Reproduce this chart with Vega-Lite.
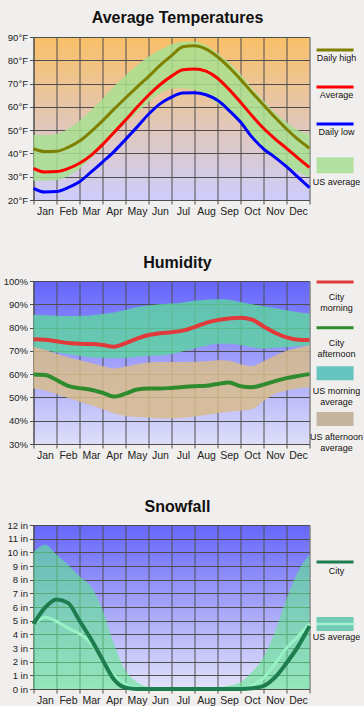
{
  "$schema": "https://vega.github.io/schema/vega-lite/v6.json",
  "background": "#F1EFED",
  "padding": {"left": 2.5, "top": 10, "right": 0, "bottom": 0},
  "columns": 2,
  "align": "each",
  "bounds": "flush",
  "spacing": {"row": 81, "column": 3},
  "resolve": {"scale": {"color": "independent"}},
  "datasets": {
    "temp": [
      {"m": 0, "hi": 42, "avg": 33.6, "lo": 25, "usHi": 48, "usLo": 28.3},
      {"m": 0.5, "hi": 40.8, "avg": 32, "lo": 23.4, "usHi": 47.8, "usLo": 28.3},
      {"m": 1, "hi": 40.9, "avg": 32.2, "lo": 23.6, "usHi": 48.3, "usLo": 28.6},
      {"m": 1.5, "hi": 42.6, "avg": 33.5, "lo": 25.3, "usHi": 50.5, "usLo": 30.2},
      {"m": 2, "hi": 45.3, "avg": 35.8, "lo": 27.8, "usHi": 54, "usLo": 33.5},
      {"m": 2.5, "hi": 49.4, "avg": 39.2, "lo": 32, "usHi": 58.5, "usLo": 38},
      {"m": 3, "hi": 54, "avg": 43.8, "lo": 36.3, "usHi": 63.5, "usLo": 43},
      {"m": 3.5, "hi": 59, "avg": 49, "lo": 40.8, "usHi": 68.8, "usLo": 48},
      {"m": 4, "hi": 63.8, "avg": 54.3, "lo": 46, "usHi": 73.5, "usLo": 53},
      {"m": 4.5, "hi": 68.5, "avg": 59.8, "lo": 51.3, "usHi": 77.8, "usLo": 57.5},
      {"m": 5, "hi": 73, "avg": 65, "lo": 56.8, "usHi": 81.5, "usLo": 62},
      {"m": 5.5, "hi": 77.8, "avg": 69.5, "lo": 61.3, "usHi": 84.5, "usLo": 65.8},
      {"m": 6, "hi": 82, "avg": 73.2, "lo": 64.2, "usHi": 86.8, "usLo": 67.8},
      {"m": 6.5, "hi": 85.8, "avg": 75.9, "lo": 65.9, "usHi": 88, "usLo": 68},
      {"m": 7, "hi": 86.2, "avg": 76.3, "lo": 66.1, "usHi": 88, "usLo": 67.3},
      {"m": 7.5, "hi": 84.8, "avg": 75.3, "lo": 65.2, "usHi": 86.3, "usLo": 64.8},
      {"m": 8, "hi": 81.5, "avg": 72.3, "lo": 62.8, "usHi": 83, "usLo": 61.3},
      {"m": 8.5, "hi": 77, "avg": 67.5, "lo": 58.5, "usHi": 79, "usLo": 57.5},
      {"m": 9, "hi": 71.8, "avg": 62, "lo": 53.5, "usHi": 74, "usLo": 52.8},
      {"m": 9.5, "hi": 66.2, "avg": 56.2, "lo": 47, "usHi": 68, "usLo": 47.5},
      {"m": 10, "hi": 60.8, "avg": 50.8, "lo": 42, "usHi": 62.5, "usLo": 42.5},
      {"m": 10.5, "hi": 55.5, "avg": 46.3, "lo": 38.3, "usHi": 57.5, "usLo": 38.3},
      {"m": 11, "hi": 50.5, "avg": 42.2, "lo": 34.3, "usHi": 53.5, "usLo": 34.8},
      {"m": 11.5, "hi": 46, "avg": 38, "lo": 29.8, "usHi": 50, "usLo": 32},
      {"m": 12, "hi": 42.2, "avg": 34, "lo": 25.3, "usHi": 48.2, "usLo": 29.8}
    ],
    "hum": [
      {"m": 0, "morn": 75, "aft": 59.8, "mHi": 85.5, "mLo": 71.5, "aHi": 71.8, "aLo": 53.8},
      {"m": 0.5, "morn": 74.8, "aft": 59.6, "mHi": 85.3, "mLo": 70.5, "aHi": 70.5, "aLo": 53},
      {"m": 1, "morn": 74.1, "aft": 57.5, "mHi": 85.1, "mLo": 69.3, "aHi": 68.8, "aLo": 51.5},
      {"m": 1.5, "morn": 73.4, "aft": 55, "mHi": 85, "mLo": 68.5, "aHi": 67.3, "aLo": 49.8},
      {"m": 2, "morn": 73, "aft": 54, "mHi": 85, "mLo": 67.8, "aHi": 66, "aLo": 48.3},
      {"m": 2.5, "morn": 72.9, "aft": 53.3, "mHi": 85.2, "mLo": 67.3, "aHi": 64.8, "aLo": 46.6},
      {"m": 3, "morn": 72.5, "aft": 52, "mHi": 85.8, "mLo": 67, "aHi": 63.5, "aLo": 45},
      {"m": 3.5, "morn": 71.8, "aft": 50.4, "mHi": 86.5, "mLo": 66.8, "aHi": 62.4, "aLo": 43.2},
      {"m": 4, "morn": 73.3, "aft": 51.6, "mHi": 87.5, "mLo": 67, "aHi": 63.3, "aLo": 42},
      {"m": 4.5, "morn": 75.3, "aft": 53.4, "mHi": 88.7, "mLo": 67.5, "aHi": 64.3, "aLo": 41.6},
      {"m": 5, "morn": 76.8, "aft": 53.8, "mHi": 89.5, "mLo": 67.8, "aHi": 65, "aLo": 41.3},
      {"m": 5.5, "morn": 77.6, "aft": 53.8, "mHi": 90, "mLo": 68, "aHi": 65.2, "aLo": 41},
      {"m": 6, "morn": 78, "aft": 54.1, "mHi": 90.3, "mLo": 68.5, "aHi": 65.2, "aLo": 41},
      {"m": 6.5, "morn": 78.7, "aft": 54.5, "mHi": 90.8, "mLo": 69.8, "aHi": 65.2, "aLo": 41.3},
      {"m": 7, "morn": 80.2, "aft": 54.8, "mHi": 91.5, "mLo": 71, "aHi": 65.3, "aLo": 41.8},
      {"m": 7.5, "morn": 82, "aft": 55, "mHi": 92, "mLo": 72.2, "aHi": 65.5, "aLo": 42.5},
      {"m": 8, "morn": 83.2, "aft": 55.8, "mHi": 92.2, "mLo": 73, "aHi": 66, "aLo": 43.3},
      {"m": 8.5, "morn": 83.9, "aft": 56.4, "mHi": 92, "mLo": 73, "aHi": 65.8, "aLo": 43.8},
      {"m": 9, "morn": 84.2, "aft": 54.8, "mHi": 91, "mLo": 72.5, "aHi": 64.3, "aLo": 44.3},
      {"m": 9.5, "morn": 83.4, "aft": 54.4, "mHi": 90, "mLo": 71.5, "aHi": 63.5, "aLo": 45},
      {"m": 10, "morn": 80.5, "aft": 55.5, "mHi": 89.2, "mLo": 71, "aHi": 65.5, "aLo": 48.5},
      {"m": 10.5, "morn": 77.8, "aft": 57, "mHi": 88.3, "mLo": 71.3, "aHi": 68, "aLo": 51.5},
      {"m": 11, "morn": 75.8, "aft": 58.3, "mHi": 87.4, "mLo": 71.7, "aHi": 70, "aLo": 53},
      {"m": 11.5, "morn": 74.8, "aft": 59.2, "mHi": 86.6, "mLo": 72, "aHi": 71.3, "aLo": 53.8},
      {"m": 12, "morn": 74.7, "aft": 60, "mHi": 86, "mLo": 72.4, "aHi": 72.4, "aLo": 54.3}
    ],
    "snow": [
      {"m": 0, "city": 4.75, "usLine": 4.7, "usArea": 10},
      {"m": 0.5, "city": 5.95, "usLine": 5.25, "usArea": 10.55},
      {"m": 1, "city": 6.55, "usLine": 4.95, "usArea": 9.85},
      {"m": 1.5, "city": 6.3, "usLine": 4.45, "usArea": 9.1},
      {"m": 2, "city": 5.0, "usLine": 4.05, "usArea": 8.25},
      {"m": 2.5, "city": 3.65, "usLine": 3.35, "usArea": 7.5},
      {"m": 3, "city": 2.15, "usLine": 2.15, "usArea": 5.8},
      {"m": 3.5, "city": 0.7, "usLine": 1.0, "usArea": 3.3},
      {"m": 4, "city": 0.1, "usLine": 0.35, "usArea": 1.35},
      {"m": 4.5, "city": 0, "usLine": 0.1, "usArea": 0.5},
      {"m": 5, "city": 0, "usLine": 0.02, "usArea": 0.15},
      {"m": 5.5, "city": 0, "usLine": 0, "usArea": 0.05},
      {"m": 6, "city": 0, "usLine": 0, "usArea": 0},
      {"m": 6.5, "city": 0, "usLine": 0, "usArea": 0},
      {"m": 7, "city": 0, "usLine": 0, "usArea": 0},
      {"m": 7.5, "city": 0, "usLine": 0, "usArea": 0.02},
      {"m": 8, "city": 0, "usLine": 0, "usArea": 0.1},
      {"m": 8.5, "city": 0, "usLine": 0, "usArea": 0.25},
      {"m": 9, "city": 0, "usLine": 0.05, "usArea": 0.5},
      {"m": 9.5, "city": 0.05, "usLine": 0.25, "usArea": 1.25},
      {"m": 10, "city": 0.22, "usLine": 0.8, "usArea": 2.35},
      {"m": 10.5, "city": 0.85, "usLine": 1.85, "usArea": 4.2},
      {"m": 11, "city": 1.9, "usLine": 3.0, "usArea": 6.6},
      {"m": 11.5, "city": 3.1, "usLine": 3.85, "usArea": 8.6},
      {"m": 12, "city": 4.6, "usLine": 4.8, "usArea": 9.85}
    ],
    "tempLegend": [
      {"item": "Daily high", "kind": "line"},
      {"item": "Average", "kind": "line"},
      {"item": "Daily low", "kind": "line"},
      {"item": "US average", "kind": "box"}
    ],
    "humLegend": [
      {"item": "City\nmorning", "kind": "line"},
      {"item": "City\nafternoon", "kind": "line"},
      {"item": "US morning\naverage", "kind": "box"},
      {"item": "US afternoon\naverage", "kind": "box"}
    ],
    "snowLegend": [
      {"item": "City", "kind": "line"},
      {"item": "US average", "kind": "box"}
    ]
  },
  "concat": [
    {
      "width": 276,
      "height": 163,
      "title": {"text": "Average Temperatures", "frame": "group", "dx": 6, "offset": 6},
      "data": {"name": "temp"},
      "view": {"stroke": null, "fill": {"gradient": "linear", "x1": 0, "y1": 0, "x2": 0, "y2": 1, "stops": [{"offset": 0, "color": "#FAC068"}, {"offset": 1, "color": "#CDCDFC"}]}},
      "encoding": {
        "x": {"field": "m", "type": "quantitative", "title": null, "scale": {"domain": [0, 12], "nice": false, "zero": false},
          "axis": {"values": [0,1,2,3,4,5,6,7,8,9,10,11,12], "labelExpr": "['Jan','Feb','Mar','Apr','May','Jun','Jul','Aug','Sep','Oct','Nov','Dec',''][datum.value]", "labelOffset": 11.5, "labelFlush": false, "labelOverlap": false, "grid": true, "tickSize": 4, "labelPadding": 2, "labelFontSize": 10.5}}
      },
      "layer": [
        {"mark": {"type": "area", "color": "#A8E090", "opacity": 0.85, "interpolate": "monotone"},
         "encoding": {"y": {"field": "usLo", "type": "quantitative", "title": null, "scale": {"domain": [20, 90], "nice": false, "zero": false},
           "axis": {"values": [20,30,40,50,60,70,80,90], "labelExpr": "datum.value + '°F'", "grid": true, "tickSize": 4, "labelPadding": 2, "labelFlush": false, "labelOverlap": false}},
           "y2": {"field": "usHi"}}},
        {"mark": {"type": "line", "color": "#808000", "strokeWidth": 3, "interpolate": "monotone"},
         "encoding": {"y": {"field": "hi", "type": "quantitative", "title": null, "scale": {"domain": [20, 90], "nice": false, "zero": false},
           "axis": {"values": [20,30,40,50,60,70,80,90], "labelExpr": "datum.value + '°F'", "grid": true, "tickSize": 4, "labelPadding": 2, "labelFlush": false, "labelOverlap": false}}}},
        {"mark": {"type": "line", "color": "#FF0000", "strokeWidth": 3, "interpolate": "monotone"},
         "encoding": {"y": {"field": "avg", "type": "quantitative", "title": null, "scale": {"domain": [20, 90], "nice": false, "zero": false},
           "axis": {"values": [20,30,40,50,60,70,80,90], "labelExpr": "datum.value + '°F'", "grid": true, "tickSize": 4, "labelPadding": 2, "labelFlush": false, "labelOverlap": false}}}},
        {"mark": {"type": "line", "color": "#0000FF", "strokeWidth": 3, "interpolate": "monotone"},
         "encoding": {"y": {"field": "lo", "type": "quantitative", "title": null, "scale": {"domain": [20, 90], "nice": false, "zero": false},
           "axis": {"values": [20,30,40,50,60,70,80,90], "labelExpr": "datum.value + '°F'", "grid": true, "tickSize": 4, "labelPadding": 2, "labelFlush": false, "labelOverlap": false}}}}
      ]
    },
    {
      "width": 48,
      "height": 137,
      "data": {"name": "tempLegend"},
      "encoding": {
        "y": {"field": "item", "type": "nominal", "scale": {"type": "point", "domain": ["Daily high", "Average", "Daily low", "US average"], "padding": 0.351}, "axis": null},
        "x": {"datum": 0.5, "type": "quantitative", "scale": {"domain": [0, 1]}, "axis": null}
      },
      "layer": [
        {"transform": [{"filter": "datum.kind === 'line'"}],
         "mark": {"type": "tick", "orient": "horizontal", "size": 37, "thickness": 3, "opacity": 1},
         "encoding": {"x": {"datum": 0.47, "type": "quantitative"}, "color": {"field": "item", "type": "nominal", "scale": {"domain": ["Daily high", "Average", "Daily low", "US average"], "range": ["#808000", "#FF0000", "#0000FF", "#B2E0A0"]}, "legend": null}}},
        {"transform": [{"filter": "datum.kind === 'box'"}],
         "mark": {"type": "tick", "orient": "horizontal", "size": 37, "thickness": 16, "yOffset": 4.3, "opacity": 1},
         "encoding": {"x": {"datum": 0.47, "type": "quantitative"}, "color": {"field": "item", "type": "nominal", "legend": null}}},
        {"transform": [{"filter": "datum.kind === 'line'"}],
         "mark": {"type": "text", "fontSize": 9, "color": "#111", "align": "center", "baseline": "middle", "dy": 8.3},
         "encoding": {"text": {"field": "item"}}},
        {"transform": [{"filter": "datum.kind === 'box'"}],
         "mark": {"type": "text", "fontSize": 9, "color": "#111", "align": "center", "baseline": "middle", "dy": 21.4},
         "encoding": {"text": {"field": "item"}}}
      ]
    },
    {
      "width": 276,
      "height": 163,
      "title": {"text": "Humidity", "frame": "group", "dx": 6, "offset": 5},
      "data": {"name": "hum"},
      "view": {"stroke": null, "fill": {"gradient": "linear", "x1": 0, "y1": 0, "x2": 0, "y2": 1, "stops": [{"offset": 0, "color": "#6464FC"}, {"offset": 1, "color": "#DEDEFA"}]}},
      "encoding": {
        "x": {"field": "m", "type": "quantitative", "title": null, "scale": {"domain": [0, 12], "nice": false, "zero": false},
          "axis": {"values": [0,1,2,3,4,5,6,7,8,9,10,11,12], "labelExpr": "['Jan','Feb','Mar','Apr','May','Jun','Jul','Aug','Sep','Oct','Nov','Dec',''][datum.value]", "labelOffset": 11.5, "labelFlush": false, "labelOverlap": false, "grid": true, "tickSize": 4, "labelPadding": 2, "labelFontSize": 10.5}}
      },
      "layer": [
        {"mark": {"type": "area", "color": "#5CD6A0", "opacity": 0.8, "interpolate": "monotone"},
         "encoding": {"y": {"field": "mLo", "type": "quantitative", "title": null, "scale": {"domain": [30, 100], "nice": false, "zero": false},
           "axis": {"values": [30,40,50,60,70,80,90,100], "labelExpr": "datum.value + '%'", "grid": true, "tickSize": 4, "labelPadding": 2, "labelFlush": false, "labelOverlap": false}},
           "y2": {"field": "mHi"}}},
        {"mark": {"type": "area", "color": "#D8BC8C", "opacity": 0.85, "interpolate": "monotone"},
         "encoding": {"y": {"field": "aLo", "type": "quantitative", "title": null, "scale": {"domain": [30, 100], "nice": false, "zero": false},
           "axis": {"values": [30,40,50,60,70,80,90,100], "labelExpr": "datum.value + '%'", "grid": true, "tickSize": 4, "labelPadding": 2, "labelFlush": false, "labelOverlap": false}},
           "y2": {"field": "aHi"}}},
        {"mark": {"type": "line", "color": "#E03A3A", "strokeWidth": 4, "interpolate": "monotone"},
         "encoding": {"y": {"field": "morn", "type": "quantitative", "title": null, "scale": {"domain": [30, 100], "nice": false, "zero": false},
           "axis": {"values": [30,40,50,60,70,80,90,100], "labelExpr": "datum.value + '%'", "grid": true, "tickSize": 4, "labelPadding": 2, "labelFlush": false, "labelOverlap": false}}}},
        {"mark": {"type": "line", "color": "#2E8B2E", "strokeWidth": 4, "interpolate": "monotone"},
         "encoding": {"y": {"field": "aft", "type": "quantitative", "title": null, "scale": {"domain": [30, 100], "nice": false, "zero": false},
           "axis": {"values": [30,40,50,60,70,80,90,100], "labelExpr": "datum.value + '%'", "grid": true, "tickSize": 4, "labelPadding": 2, "labelFlush": false, "labelOverlap": false}}}}
      ]
    },
    {
      "width": 48,
      "height": 139,
      "data": {"name": "humLegend"},
      "encoding": {
        "y": {"field": "item", "type": "nominal", "scale": {"type": "point", "domain": ["City\nmorning", "City\nafternoon", "US morning\naverage", "US afternoon\naverage"], "padding": 0.022}, "axis": null},
        "x": {"datum": 0.5, "type": "quantitative", "scale": {"domain": [0, 1]}, "axis": null}
      },
      "layer": [
        {"transform": [{"filter": "datum.kind === 'line'"}],
         "mark": {"type": "tick", "orient": "horizontal", "size": 37, "thickness": 3, "opacity": 1},
         "encoding": {"x": {"datum": 0.47, "type": "quantitative"}, "color": {"field": "item", "type": "nominal", "scale": {"domain": ["City\nmorning", "City\nafternoon", "US morning\naverage", "US afternoon\naverage"], "range": ["#E03A3A", "#2E8B2E", "#66C4BE", "#C4B5A0"]}, "legend": null}}},
        {"transform": [{"filter": "datum.kind === 'box'"}],
         "mark": {"type": "tick", "orient": "horizontal", "size": 37, "thickness": 14, "opacity": 1},
         "encoding": {"x": {"datum": 0.47, "type": "quantitative"}, "color": {"field": "item", "type": "nominal", "legend": null}}},
        {"transform": [{"filter": "datum.kind === 'line'"}],
         "mark": {"type": "text", "fontSize": 9, "color": "#111", "align": "center", "baseline": "middle", "dy": 15.4, "lineBreak": "\n", "lineHeight": 10.7},
         "encoding": {"text": {"field": "item"}}},
        {"transform": [{"filter": "datum.kind === 'box'"}],
         "mark": {"type": "text", "fontSize": 9, "color": "#111", "align": "center", "baseline": "middle", "dy": 18, "lineBreak": "\n", "lineHeight": 10.7},
         "encoding": {"text": {"field": "item"}}}
      ]
    },
    {
      "width": 276,
      "height": 164,
      "title": {"text": "Snowfall", "frame": "group", "dx": 6, "offset": 5},
      "data": {"name": "snow"},
      "view": {"stroke": null, "fill": {"gradient": "linear", "x1": 0, "y1": 0, "x2": 0, "y2": 1, "stops": [{"offset": 0, "color": "#6666FA"}, {"offset": 1, "color": "#E2E2FA"}]}},
      "encoding": {
        "x": {"field": "m", "type": "quantitative", "title": null, "scale": {"domain": [0, 12], "nice": false, "zero": false},
          "axis": {"values": [0,1,2,3,4,5,6,7,8,9,10,11,12], "labelExpr": "['Jan','Feb','Mar','Apr','May','Jun','Jul','Aug','Sep','Oct','Nov','Dec',''][datum.value]", "labelOffset": 11.5, "labelFlush": false, "labelOverlap": false, "grid": true, "tickSize": 4, "labelPadding": 2, "labelFontSize": 10.5}}
      },
      "layer": [
        {"mark": {"type": "area", "color": "#60E890", "opacity": 0.6, "interpolate": "monotone"},
         "encoding": {"y": {"field": "usArea", "type": "quantitative", "title": null, "scale": {"domain": [0, 12], "nice": false, "zero": false},
           "axis": {"values": [0,1,2,3,4,5,6,7,8,9,10,11,12], "labelExpr": "datum.value + ' in'", "grid": true, "tickSize": 4, "labelPadding": 2, "labelFlush": false, "labelOverlap": false}}}},
        {"mark": {"type": "line", "color": "#96F2C4", "strokeWidth": 3, "interpolate": "monotone"},
         "encoding": {"y": {"field": "usLine", "type": "quantitative", "title": null, "scale": {"domain": [0, 12], "nice": false, "zero": false},
           "axis": {"values": [0,1,2,3,4,5,6,7,8,9,10,11,12], "labelExpr": "datum.value + ' in'", "grid": true, "tickSize": 4, "labelPadding": 2, "labelFlush": false, "labelOverlap": false}}}},
        {"mark": {"type": "line", "color": "#1E7D4E", "strokeWidth": 4, "interpolate": "monotone"},
         "encoding": {"y": {"field": "city", "type": "quantitative", "title": null, "scale": {"domain": [0, 12], "nice": false, "zero": false},
           "axis": {"values": [0,1,2,3,4,5,6,7,8,9,10,11,12], "labelExpr": "datum.value + ' in'", "grid": true, "tickSize": 4, "labelPadding": 2, "labelFlush": false, "labelOverlap": false}}}}
      ]
    },
    {
      "width": 48,
      "height": 136,
      "data": {"name": "snowLegend"},
      "encoding": {
        "y": {"field": "item", "type": "nominal", "scale": {"type": "point", "domain": ["City", "US average"], "padding": 0.6}, "axis": null},
        "x": {"datum": 0.5, "type": "quantitative", "scale": {"domain": [0, 1]}, "axis": null}
      },
      "layer": [
        {"transform": [{"filter": "datum.kind === 'line'"}],
         "mark": {"type": "tick", "orient": "horizontal", "size": 37, "thickness": 3, "opacity": 1},
         "encoding": {"x": {"datum": 0.47, "type": "quantitative"}, "color": {"field": "item", "type": "nominal", "scale": {"domain": ["City", "US average"], "range": ["#1E7D4E", "#72CCB4"]}, "legend": null}}},
        {"transform": [{"filter": "datum.kind === 'box'"}],
         "mark": {"type": "tick", "orient": "horizontal", "size": 37, "thickness": 14, "opacity": 1},
         "encoding": {"x": {"datum": 0.47, "type": "quantitative"}, "color": {"field": "item", "type": "nominal", "legend": null}}},
        {"transform": [{"filter": "datum.kind === 'box'"}],
         "mark": {"type": "tick", "orient": "horizontal", "size": 37, "thickness": 2.5, "opacity": 1, "color": "#A4F4D4"},
         "encoding": {"x": {"datum": 0.47, "type": "quantitative"}}},
        {"transform": [{"filter": "datum.kind === 'line'"}],
         "mark": {"type": "text", "fontSize": 9, "color": "#111", "align": "center", "baseline": "middle", "dy": 8.7},
         "encoding": {"text": {"field": "item"}}},
        {"transform": [{"filter": "datum.kind === 'box'"}],
         "mark": {"type": "text", "fontSize": 9, "color": "#111", "align": "center", "baseline": "middle", "dy": 12.6},
         "encoding": {"text": {"field": "item"}}}
      ]
    }
  ],
  "config": {
    "font": "Liberation Sans",
    "axis": {"gridColor": "#4E4E4E", "gridOpacity": 1, "gridWidth": 1, "domainColor": "#4E4E4E", "tickColor": "#4E4E4E", "labelFont": "Liberation Sans", "labelColor": "#222222", "labelFontSize": 9.5, "minExtent": 0},
    "title": {"font": "Liberation Sans", "fontSize": 16, "fontWeight": "bold", "color": "#111111", "offset": 5},
    "text": {"font": "Liberation Sans"},
    "view": {"stroke": null}
  }
}
